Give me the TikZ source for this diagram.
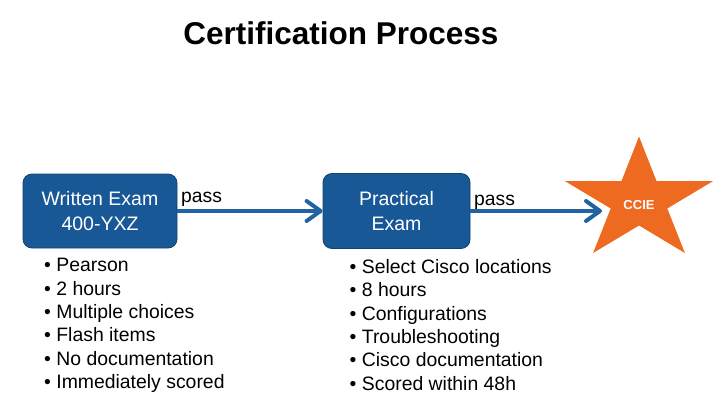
\documentclass[tikz,border=0pt]{standalone}
\usepackage{fontspec}
\setmainfont{Liberation Sans}
\usetikzlibrary{arrows.meta}
\definecolor{boxblue}{RGB}{24,88,150}
\definecolor{arrowblue}{RGB}{32,98,162}
\definecolor{starorange}{RGB}{238,106,33}
\begin{document}
\begin{tikzpicture}[x=1pt,y=-1pt,
  exambox/.style={rounded corners=9pt, fill=boxblue, draw=boxblue!75!black, line width=0.8pt,
    text=white, align=center, font=\fontsize{19.5}{24.3}\selectfont, inner sep=0pt},
  flowarrow/.style={draw=arrowblue, line width=4pt,
    -{Straight Barb[length=14pt,width=20pt,round]}},
  passlabel/.style={font=\fontsize{19.3}{23}\selectfont, inner sep=0pt, anchor=base west},
  bulletlist/.style={font=\fontsize{19.4}{23.3}\selectfont, align=left, inner sep=0pt, anchor=north west}]
\useasboundingbox (0,0) rectangle (720,417);
% title
\node[font=\bfseries\fontsize{31.5}{36}\selectfont, anchor=base, inner sep=0pt] (title) at (341,45) {Certification Process};
% boxes
\node[exambox, minimum width=154pt, minimum height=74pt] (w) at (100,211) {Written Exam\\400-YXZ};
\node[exambox, minimum width=147pt, minimum height=75pt] (p) at (396.5,211) {Practical\\Exam};
% star
\fill[starorange] (639,136.5) -- (621.5,181.0) -- (564.8,181.0) -- (610.7,208.5) -- (593.1,253.0)
  -- (639,225.5) -- (684.9,253.0) -- (667.3,208.5) -- (713.2,181.0) -- (656.5,181.0) -- cycle;
\node[text=white, font=\bfseries\fontsize{13}{15}\selectfont, anchor=base, inner sep=0pt] (ccie) at (639,209) {CCIE};
\coordinate (ccieIn) at (602,211);
% arrows
\draw[flowarrow] (w.east) -- (p.west);
\draw[flowarrow] (p.east) -- (ccieIn);
\node[passlabel] (pass1) at (181,202.7) {pass};
\node[passlabel] (pass2) at (474,205) {pass};
% lists
\node[bulletlist] (list1) at (44,258.3) {• Pearson\\• 2 hours\\• Multiple choices\\• Flash items\\• No documentation\\• Immediately scored};
\node[bulletlist] (list2) at (349.5,259.3) {• Select Cisco locations\\• 8 hours\\• Configurations\\• Troubleshooting\\• Cisco documentation\\• Scored within 48h};
\end{tikzpicture}
\end{document}
